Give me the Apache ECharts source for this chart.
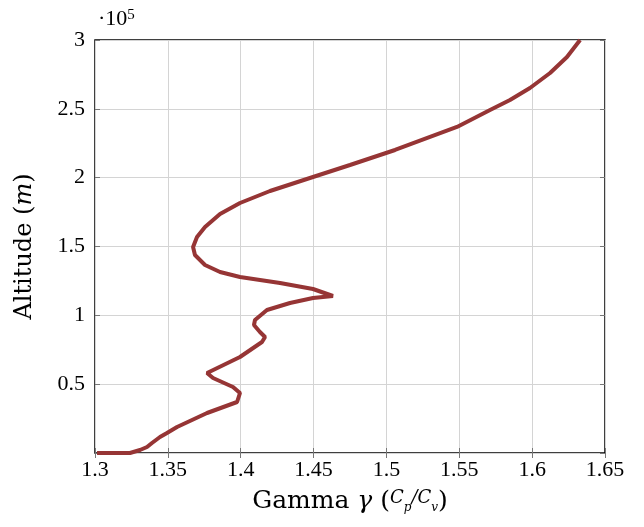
<!DOCTYPE html>
<html><head><meta charset="utf-8">
<script src="https://cdn.jsdelivr.net/npm/echarts@6/dist/echarts.min.js"></script>
<style>html,body{margin:0;padding:0;background:#fff}#c{width:644px;height:527px}</style>
</head><body><div id="c"></div>
<script>
const gammaValues = [1.3014,1.324,1.3309,1.3357,1.3391,1.3446,1.3494,1.3563,1.3769,1.3975,1.3995,1.3947,1.381,1.3769,1.3995,1.4146,1.4167,1.4132,1.4091,1.4098,1.418,1.4338,1.4496,1.4633,1.4496,1.427,1.3995,1.3858,1.3755,1.3686,1.3673,1.37,1.3755,1.3858,1.3995,1.4201,1.4496,1.475,1.5059,1.5484,1.5711,1.5848,1.5985,1.6123,1.6239,1.6329];
const altitudeValues = [0,0,2179,4358,7264,11622,14528,18886,29056,37046,43584,47942,54480,58112,69734,80630,84262,87894,92979,96611,103875,108960,112592,114045,119130,123488,127846,131478,136563,143827,149638,156902,164166,173610,181600,190317,200486,209203,220099,236806,249155,256419,265136,276032,287654,300000];
const xTicks = {min:1.3, max:1.65, interval:0.05};
const yTicks = {min:0, max:300000, interval:50000};

const FONT = 'Liberation Serif';
const TFONT = 'DejaVu Serif';
const chart = echarts.init(document.getElementById('c'), null, {renderer:'canvas'});
const data = gammaValues.map((g,i)=>[g, altitudeValues[i]]);
const gridLine = {show:true, lineStyle:{color:'#d4d4d4', width:1}};
const tick = {show:true, inside:true, length:5, lineStyle:{color:'#777', width:1}};
chart.setOption({
  animation:false,
  grid:{left:95, right:39, top:40, bottom:74, show:true, borderColor:'#000', borderWidth:1.5},
  xAxis:[{
    type:'value', min:xTicks.min, max:xTicks.max, interval:xTicks.interval,
    axisLine:{show:false}, axisTick:tick, splitLine:gridLine,
    axisLabel:{fontFamily:FONT, fontSize:22, color:'#000', margin:6,
      formatter:v=>String(parseFloat(v.toFixed(2)))},
    name:'{a|Gamma }{g|γ}{a| (}{s|C}{t|p}{s|/C}{t|v}{a|)}',
    nameLocation:'middle', nameGap:36,
    nameTextStyle:{rich:{
      a:{fontFamily:TFONT, fontSize:25, color:'#000'},
      g:{fontFamily:TFONT, fontSize:25, fontStyle:'italic', color:'#000'},
      s:{fontFamily:TFONT, fontSize:18, fontStyle:'italic', color:'#000', verticalAlign:'top'},
      t:{fontFamily:TFONT, fontSize:12, fontStyle:'italic', color:'#000', verticalAlign:'bottom'}
    }}
  },{
    type:'value', position:'top', min:xTicks.min, max:xTicks.max, interval:xTicks.interval,
    axisLine:{show:false}, axisTick:tick, splitLine:{show:false}, axisLabel:{show:false}
  }],
  yAxis:[{
    type:'value', min:yTicks.min, max:yTicks.max, interval:yTicks.interval,
    axisLine:{show:false}, axisTick:tick, splitLine:gridLine,
    axisLabel:{fontFamily:FONT, fontSize:22, color:'#000', margin:10,
      formatter:v=> v===0 ? '' : String(parseFloat((v/1e5).toFixed(2)))},
    name:'{a|Altitude (}{m|m}{a|)}', nameLocation:'middle', nameGap:58, nameRotate:90,
    nameTextStyle:{rich:{
      a:{fontFamily:TFONT, fontSize:24, color:'#000'},
      m:{fontFamily:TFONT, fontSize:24, fontStyle:'italic', color:'#000'}
    }}
  },{
    type:'value', position:'right', min:yTicks.min, max:yTicks.max, interval:yTicks.interval,
    axisLine:{show:false}, axisTick:tick, splitLine:{show:false}, axisLabel:{show:false}
  }],
  graphic:[{
    type:'text', left:98, top:8,
    style:{text:'{a|·10}{s|5}', rich:{
      a:{fontFamily:FONT, fontSize:22, fill:'#000'},
      s:{fontFamily:FONT, fontSize:15, fill:'#000', verticalAlign:'top', padding:[0,0,8,0]}
    }}
  }],
  series:[{
    type:'line', data:data, showSymbol:false, smooth:false,
    lineStyle:{color:'#963535', width:4}, clip:true
  }]
});
</script></body></html>
